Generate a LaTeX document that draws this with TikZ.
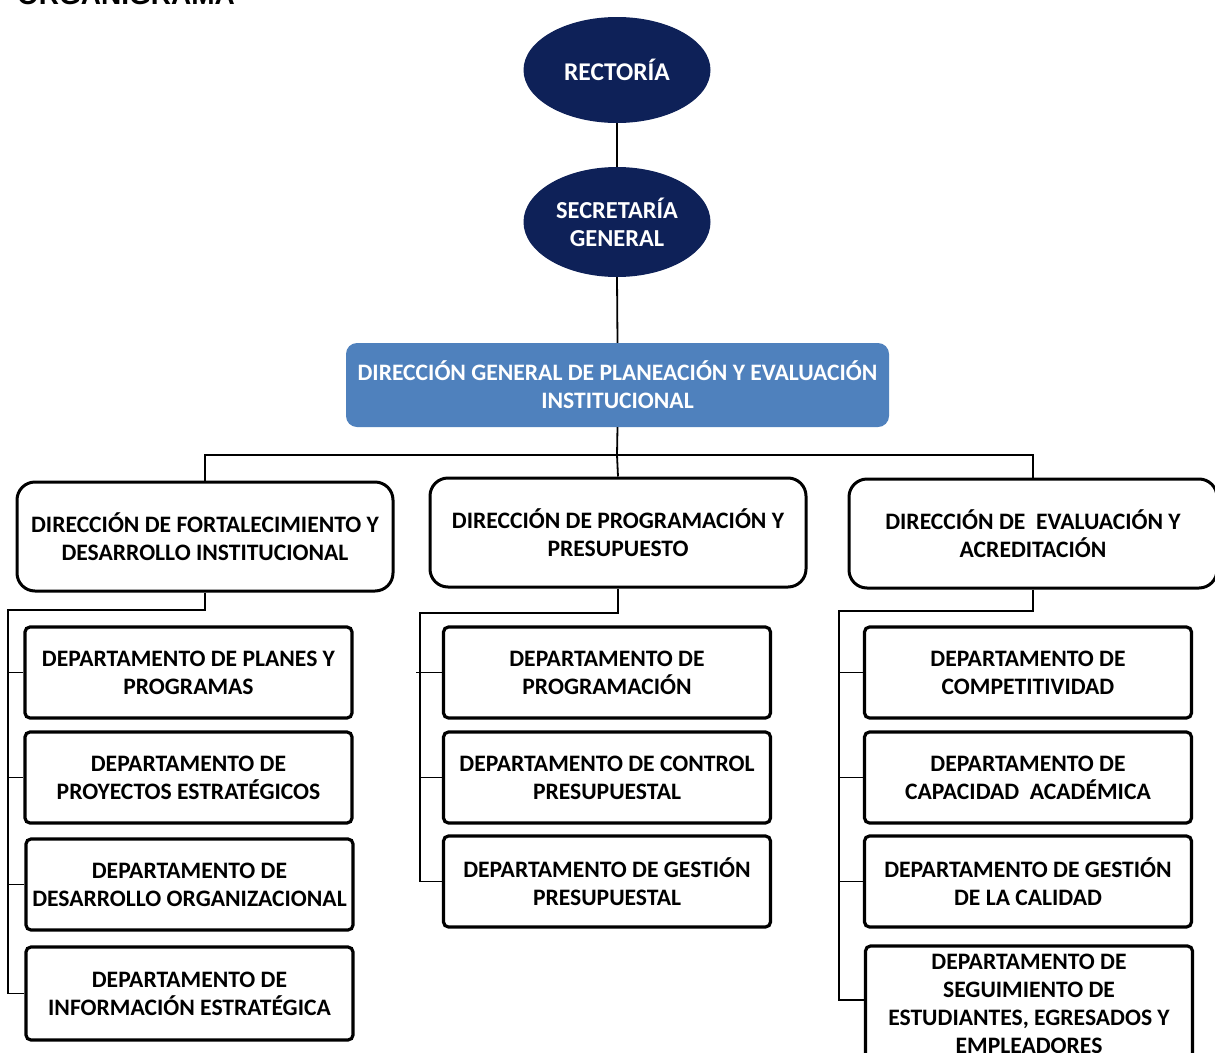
\documentclass[tikz,border=0pt]{standalone}
\usepackage{fontspec}
\setmainfont{Carlito}
\newfontfamily\titlefont{Liberation Sans}
\usetikzlibrary{shapes.geometric}
\definecolor{navy}{HTML}{0E2158}
\definecolor{officeblue}{HTML}{4F81BD}
\begin{document}
\begin{tikzpicture}[x=1pt,y=-1pt,
  every node/.style={font=\bfseries\fontsize{23.6}{28}\selectfont, align=center, inner sep=0pt},
  topoval/.style={ellipse, fill=navy, text=white, minimum width=187, minimum height=106},
  genbox/.style={rectangle, rounded corners=11, fill=officeblue, text=white, minimum width=543, minimum height=84},
  dirbox/.style={rectangle, rounded corners=18, draw=black, line width=3pt, fill=white, minimum width=376, minimum height=109},
  deptbox/.style={rectangle, rounded corners=5, draw=black, line width=3.2pt, fill=white, minimum width=327, minimum height=91},
  conn/.style={draw=black, line width=1.8pt}]
\useasboundingbox (0,0) rectangle (1215,1052);
\fill[white] (0,0) rectangle (1215,1052);

% title
\node[font=\titlefont\bfseries\fontsize{28}{30}\selectfont, anchor=base west] (title) at (17,5) {ORGANIGRAMA};

% top levels
\node[topoval, font=\bfseries\fontsize{25.5}{28}\selectfont] (rect) at (617,70) {RECTORÍA};
\node[topoval, minimum height=110, font=\bfseries\fontsize{24.4}{28}\selectfont] (sec) at (617,222) {SECRETARÍA\\GENERAL};
\node[genbox] (dg) at (617.5,385) {DIRECCIÓN GENERAL DE PLANEACIÓN Y EVALUACIÓN\\INSTITUCIONAL};

% directions
\node[dirbox] (dl) at (205,536.5) {DIRECCIÓN DE FORTALECIMIENTO Y\\DESARROLLO INSTITUCIONAL};
\node[dirbox] (dm) at (618,532.5) {DIRECCIÓN DE PROGRAMACIÓN Y\\PRESUPUESTO};
\node[dirbox, minimum width=368] (dr) at (1033,533.5) {DIRECCIÓN DE \ EVALUACIÓN Y\\ACREDITACIÓN};

% departments, left column
\node[deptbox] (l1) at (188.5,672.5) {DEPARTAMENTO DE PLANES Y\\PROGRAMAS};
\node[deptbox] (l2) at (188.5,777.5) {DEPARTAMENTO DE\\PROYECTOS ESTRATÉGICOS};
\node[deptbox] (l3) at (189.5,884.5) {DEPARTAMENTO DE\\DESARROLLO ORGANIZACIONAL};
\node[deptbox, minimum height=93] (l4) at (189.5,993.5) {DEPARTAMENTO DE\\INFORMACIÓN ESTRATÉGICA};

% departments, middle column
\node[deptbox] (m1) at (607,672.5) {DEPARTAMENTO DE\\PROGRAMACIÓN};
\node[deptbox] (m2) at (607,777.5) {DEPARTAMENTO DE CONTROL\\PRESUPUESTAL};
\node[deptbox] (m3) at (607,881.5) {DEPARTAMENTO DE GESTIÓN\\PRESUPUESTAL};

% departments, right column
\node[deptbox] (r1) at (1028,672.5) {DEPARTAMENTO DE\\COMPETITIVIDAD};
\node[deptbox] (r2) at (1028,777.5) {DEPARTAMENTO DE\\CAPACIDAD \ ACADÉMICA};
\node[deptbox] (r3) at (1028,881.5) {DEPARTAMENTO DE GESTIÓN\\DE LA CALIDAD};
\node[deptbox, minimum height=116] (r4) at (1029,1004) {DEPARTAMENTO DE\\SEGUIMIENTO DE\\ESTUDIANTES, EGRESADOS Y\\EMPLEADORES};

% junction points
\coordinate (bus) at (617,455);
\coordinate (lj) at (8,610);
\coordinate (mj) at (420,613);
\coordinate (rj) at (839,611);

% connectors, upper part
\draw[conn] (rect.south) -- (sec.north);
\draw[conn] (sec.south) -- (dg.north);
\draw[conn] (dg.south) -- (bus);
\draw[conn] (bus) -- (dm.north);
\draw[conn] (dl.north) |- (bus) -| (dr.north);

% connectors, left column
\draw[conn] (dl.south) |- (lj) -- (lj |- l4.west) -- (l4.west);
\foreach \d in {l1,l2,l3} \draw[conn] (lj |- \d.west) -- (\d.west);

% connectors, middle column
\draw[conn] (dm.south) |- (mj) -- (mj |- m3.west) -- (m3.west);
\draw[conn] ([xshift=-4pt]mj |- m1.west) -- (m1.west);
\draw[conn] (mj |- m2.west) -- (m2.west);

% connectors, right column
\draw[conn] (dr.south) |- (rj) -- ([yshift=4pt]rj |- r4.west) -- ([yshift=4pt]r4.west);
\foreach \d in {r1,r2,r3} \draw[conn] (rj |- \d.west) -- (\d.west);
\end{tikzpicture}
\end{document}
